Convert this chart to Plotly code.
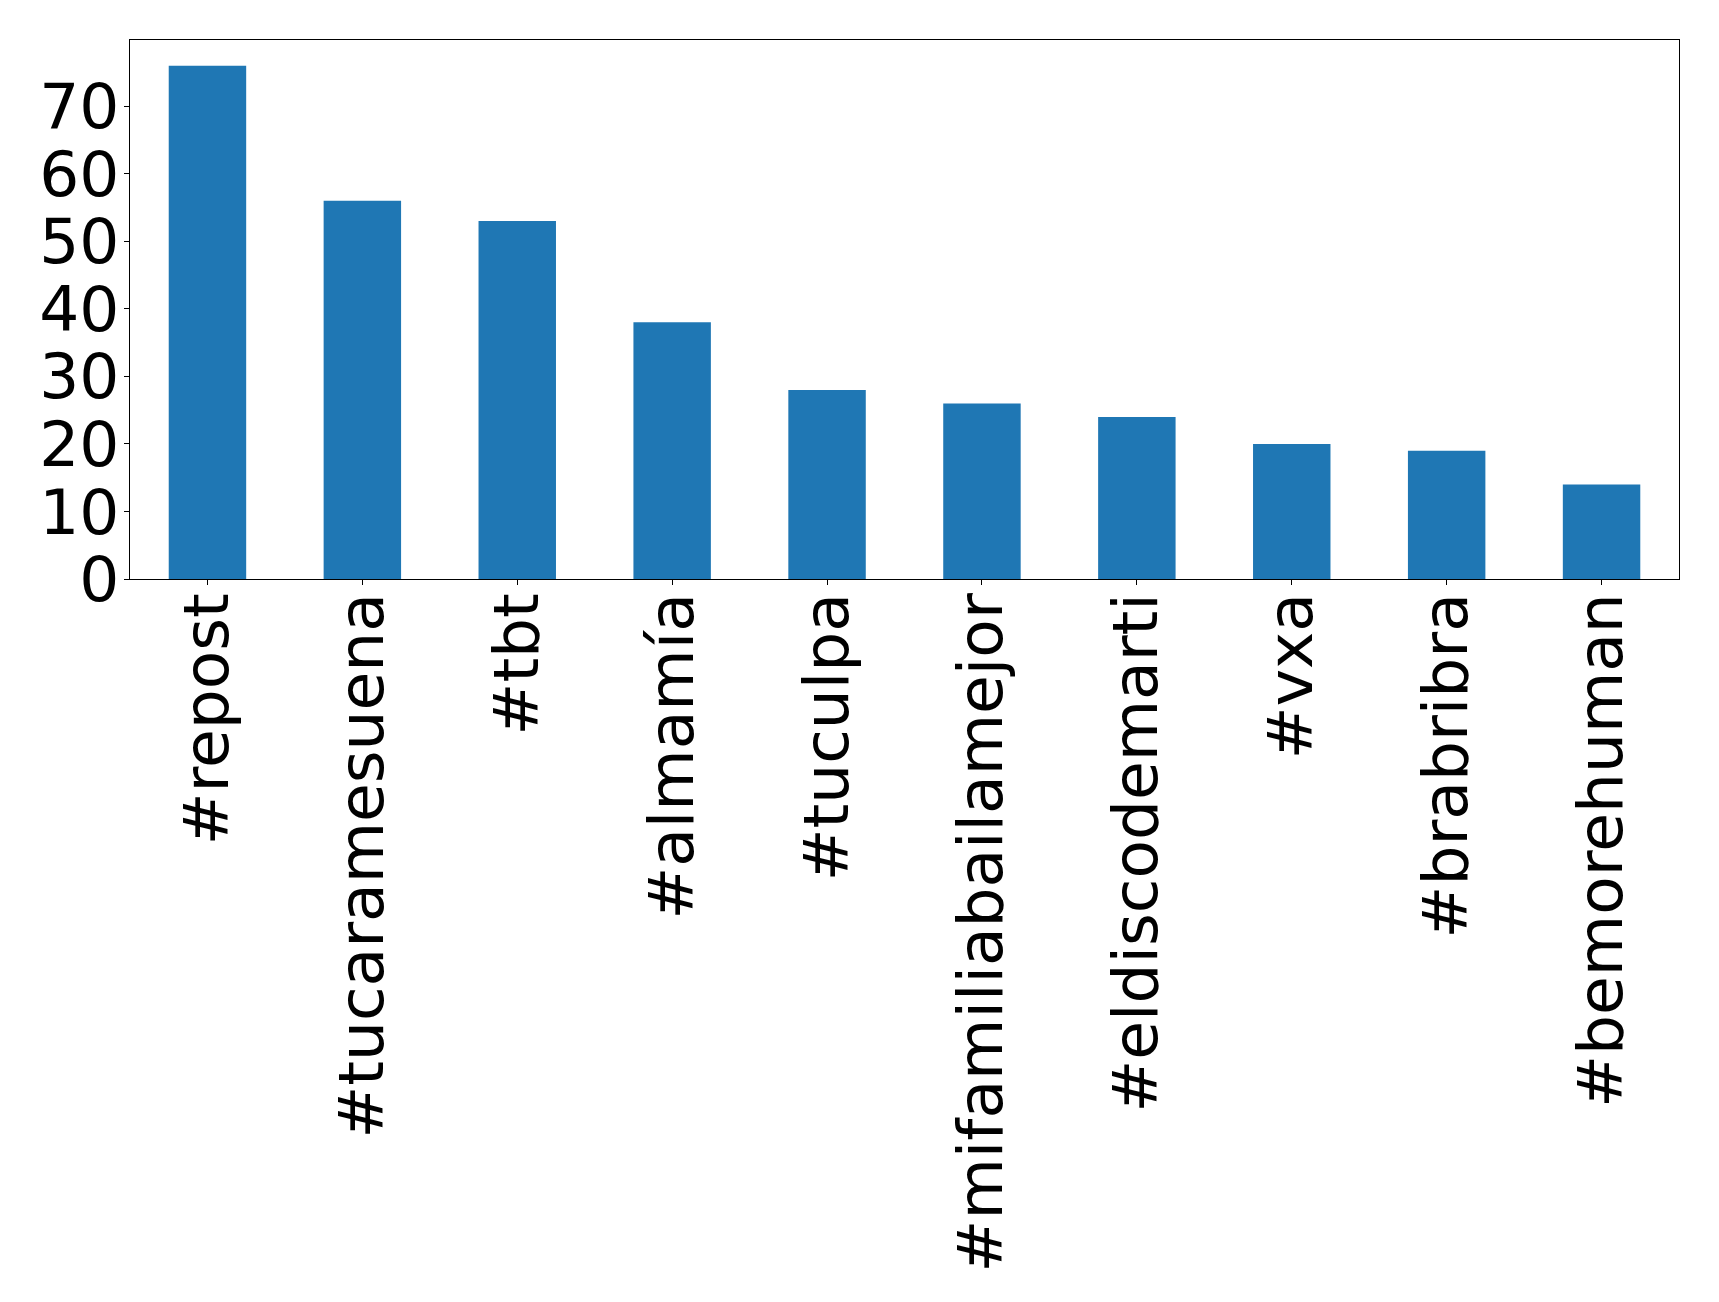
import plotly.graph_objects as go

categories = ["#repost", "#tucaramesuena", "#tbt", "#almamía", "#tuculpa",
              "#mifamiliabailamejor", "#eldiscodemarti", "#vxa", "#brabribra", "#bemorehuman"]
counts = [76, 56, 53, 38, 28, 26, 24, 20, 19, 14]
y_ticks = [0, 10, 20, 30, 40, 50, 60, 70]

fig = go.Figure(go.Bar(x=categories, y=counts, width=0.5, marker=dict(color="#1f77b4", line=dict(width=0))))

W, H = 1719, 1302
off = 8  # page body margin
left, right, top, bottom = 130 - off, 1679.3 - off, 40.3 - off, 579.3 - off
fig.update_layout(
    width=W, height=H,
    margin=dict(l=left, r=W - right, t=top, b=H - bottom, pad=0),
    paper_bgcolor="white", plot_bgcolor="white",
    font=dict(family="DejaVu Sans", size=63, color="black"),
    showlegend=False,
    bargap=0.5,
)
fig.update_xaxes(
    type="category", range=[-0.5, 9.5], tickangle=-90,
    showline=True, linecolor="black", linewidth=1, mirror=True,
    ticks="outside", ticklen=5, tickwidth=1, tickcolor="black",
    showgrid=False, zeroline=False, ticklabelstandoff=-17,
)
fig.update_yaxes(
    range=[0, 79.8], tickvals=y_ticks, ticktext=[str(v) for v in y_ticks],
    showline=True, linecolor="black", linewidth=1, mirror=True,
    ticks="outside", ticklen=5, tickwidth=1, tickcolor="black",
    showgrid=False, zeroline=False, ticklabelstandoff=-8,
)
fig.write_html("out.html")
